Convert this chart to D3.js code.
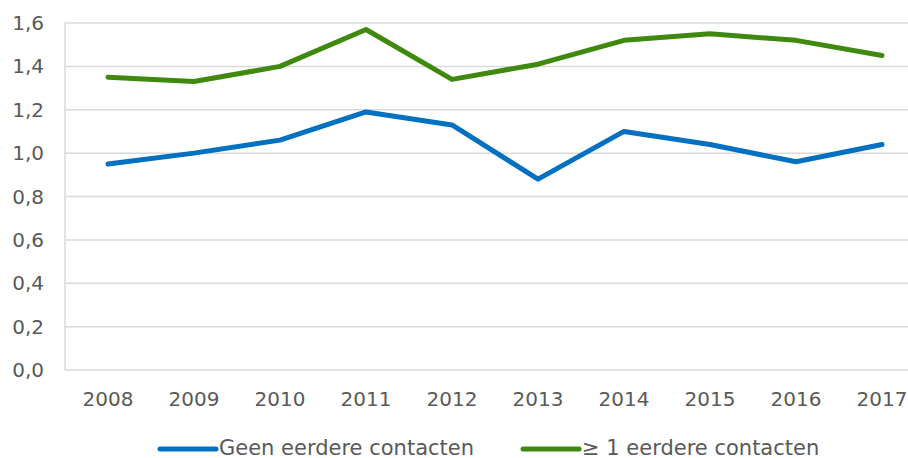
<!DOCTYPE html>
<html>
<head>
<meta charset="utf-8">
<script src="https://cdn.jsdelivr.net/npm/d3@7"></script>
<style>
  body { margin: 0; background: #fff; }
  text { font-family: "DejaVu Sans", Verdana, sans-serif; fill: #595959; }
</style>
</head>
<body>
<svg id="chart" width="908" height="458"></svg>
<script>
// data
var years = ["2008","2009","2010","2011","2012","2013","2014","2015","2016","2017"];
var geenContacten = [0.95, 1.00, 1.06, 1.19, 1.13, 0.88, 1.10, 1.04, 0.96, 1.04];
var eenOfMeer    = [1.35, 1.33, 1.40, 1.57, 1.34, 1.41, 1.52, 1.55, 1.52, 1.45];
var yTicks = [0, 0.2, 0.4, 0.6, 0.8, 1.0, 1.2, 1.4, 1.6];
var seriesNames = ["Geen eerdere contacten", "\u2265 1 eerdere contacten"];
var colors = ["#0070c0", "#3f8a0e"];

var svg = d3.select("#chart");
var pLeft = 65, pRight = 925, pTop = 23, pBottom = 370;

var x = d3.scaleBand().domain(years).range([pLeft, pRight]);
var y = d3.scaleLinear().domain([0, 1.6]).range([pBottom, pTop]);
var fmt = function(d) { return d3.format(".1f")(d).replace(".", ","); };

// gridlines
svg.append("g").selectAll("line")
  .data(yTicks)
  .enter().append("line")
  .attr("x1", pLeft).attr("x2", pRight)
  .attr("y1", function(d) { return y(d); })
  .attr("y2", function(d) { return y(d); })
  .attr("stroke", "#d9d9d9").attr("stroke-width", 1.5);

// left axis line
svg.append("line")
  .attr("x1", pLeft).attr("x2", pLeft)
  .attr("y1", pTop).attr("y2", pBottom)
  .attr("stroke", "#d9d9d9").attr("stroke-width", 1.5);

// y labels
svg.append("g").selectAll("text")
  .data(yTicks)
  .enter().append("text")
  .attr("x", 44)
  .attr("y", function(d) { return y(d) + 7; })
  .attr("text-anchor", "end")
  .style("font-size", "20px")
  .text(fmt);

// x labels
svg.append("g").selectAll("text")
  .data(years)
  .enter().append("text")
  .attr("x", function(d) { return x(d) + x.bandwidth() / 2; })
  .attr("y", 406)
  .attr("text-anchor", "middle")
  .style("font-size", "20px")
  .text(function(d) { return d; });

var line = d3.line()
  .x(function(d, i) { return x(years[i]) + x.bandwidth() / 2; })
  .y(function(d) { return y(d); });

[geenContacten, eenOfMeer].forEach(function(s, k) {
  svg.append("path")
    .datum(s)
    .attr("d", line)
    .attr("fill", "none")
    .attr("stroke", colors[k])
    .attr("stroke-width", 5)
    .attr("stroke-linejoin", "round")
    .attr("stroke-linecap", "round");
});

// legend
var legX = [160, 523];
seriesNames.forEach(function(name, k) {
  svg.append("line")
    .attr("x1", legX[k]).attr("x2", legX[k] + 56)
    .attr("y1", 449).attr("y2", 449)
    .attr("stroke", colors[k]).attr("stroke-width", 5)
    .attr("stroke-linecap", "round");
  svg.append("text")
    .attr("x", legX[k] + 59)
    .attr("y", 455)
    .style("font-size", "21px")
    .text(name);
});
</script>
</body>
</html>
